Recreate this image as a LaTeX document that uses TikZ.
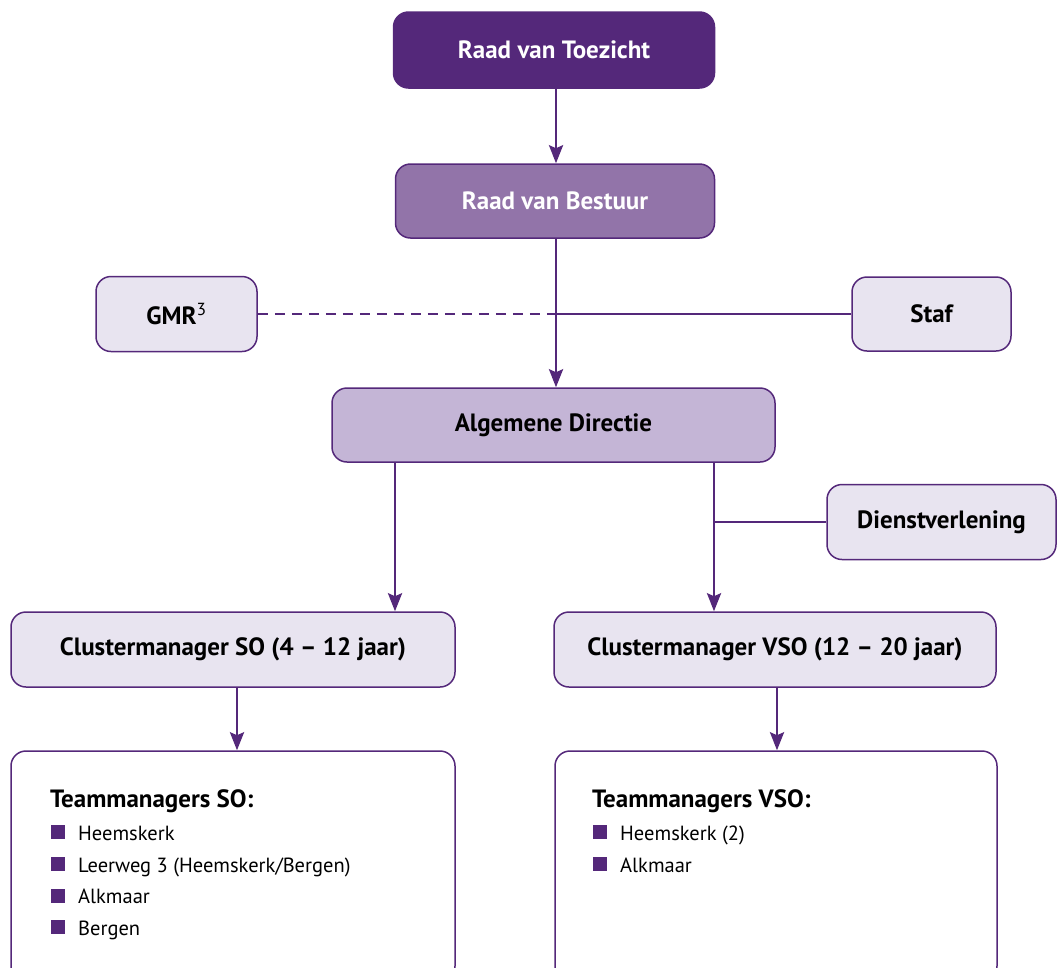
\documentclass[tikz,border=0pt]{standalone}
\usepackage{fontspec}
\setmainfont{PT Sans}
\usetikzlibrary{arrows.meta}
\definecolor{dk}{HTML}{54287A}
\definecolor{md}{HTML}{9274A9}
\definecolor{lt}{HTML}{C4B5D6}
\definecolor{pale}{HTML}{E8E4F0}
\newcommand{\bsq}{\textcolor{dk}{\rule[1pt]{14pt}{14pt}}\hspace{13pt}}
\begin{document}
\begin{tikzpicture}[x=1pt,y=-1pt,
  box/.style={draw=dk, line width=1.5pt, rounded corners=15pt, align=center,
    font=\bfseries\fontsize{25}{30}\selectfont, inner sep=0pt},
  conn/.style={draw=dk, line width=2.8pt},
  arr/.style={conn, -{Stealth[length=18pt,width=14pt,inset=3pt]}},
  dashconn/.style={conn, dash pattern=on 10pt off 7pt},
  itemtxt/.style={anchor=base west, inner sep=0pt,
    font=\fontsize{20.5}{24}\selectfont},
  titletxt/.style={anchor=base west, inner sep=0pt,
    font=\bfseries\fontsize{25}{30}\selectfont}]
\useasboundingbox (0,0) rectangle (1059,967);

\node[box, fill=dk, text=white, minimum width=321pt, minimum height=76pt] (rvt) at (554,50) {Raad van Toezicht};
\node[box, fill=md, text=white, minimum width=319pt, minimum height=74pt] (rvb) at (555,201) {Raad van Bestuur};
\node[box, fill=pale, minimum width=161pt, minimum height=75pt] (gmr) at (176.5,314) {GMR{\mdseries\textsuperscript{3}}};
\node[box, fill=pale, minimum width=159pt, minimum height=74pt] (staf) at (931.5,314) {Staf};
\node[box, fill=lt, minimum width=443pt, minimum height=74pt] (ad) at (553.5,425) {Algemene Directie};
\node[box, fill=pale, minimum width=229pt, minimum height=75pt] (dv) at (941.5,522) {Dienstverlening};
\node[box, fill=pale, minimum width=444pt, minimum height=75pt] (cmso) at (233,649.5) {Clustermanager SO (4 -- 12 jaar)};
\node[box, fill=pale, minimum width=442pt, minimum height=75pt] (cmvso) at (775,649.5) {Clustermanager VSO (12 -- 20 jaar)};
\node[box, fill=white, minimum width=444pt, minimum height=230pt] (tmso) at (233,866) {};
\node[box, fill=white, minimum width=442pt, minimum height=230pt] (tmvso) at (776,866) {};

\coordinate (j1) at (556,314);
\coordinate (j2) at (714,522);
\coordinate (j3) at (395,522);

\draw[arr] (rvt.south -| j1) -- (rvb.north -| j1);
\draw[arr] (rvb.south -| j1) -- (ad.north -| j1);
\draw[dashconn] (gmr.east) -- (j1);
\draw[conn] (j1) -- (staf.west);
\draw[arr] (ad.south -| j3) -- (cmso.north -| j3);
\draw[arr] (ad.south -| j2) -- (cmvso.north -| j2);
\draw[conn] (j2) -- (dv.west);
\draw[arr] (cmso.south -| 237,0) -- (tmso.north -| 237,0);
\draw[arr] (cmvso.south -| 777,0) -- (tmvso.north -| 777,0);

\node[titletxt] (tso) at (50,807) {Teammanagers SO:};
\node[itemtxt] (so1) at (51,840) {\bsq Heemskerk};
\node[itemtxt] (so2) at (51,872) {\bsq Leerweg 3 (Heemskerk/Bergen)};
\node[itemtxt] (so3) at (51,903.5) {\bsq Alkmaar};
\node[itemtxt] (so4) at (51,935) {\bsq Bergen};
\node[titletxt] (tvso) at (592,807) {Teammanagers VSO:};
\node[itemtxt] (vso1) at (593,840) {\bsq Heemskerk (2)};
\node[itemtxt] (vso2) at (593,872) {\bsq Alkmaar};
\end{tikzpicture}
\end{document}
